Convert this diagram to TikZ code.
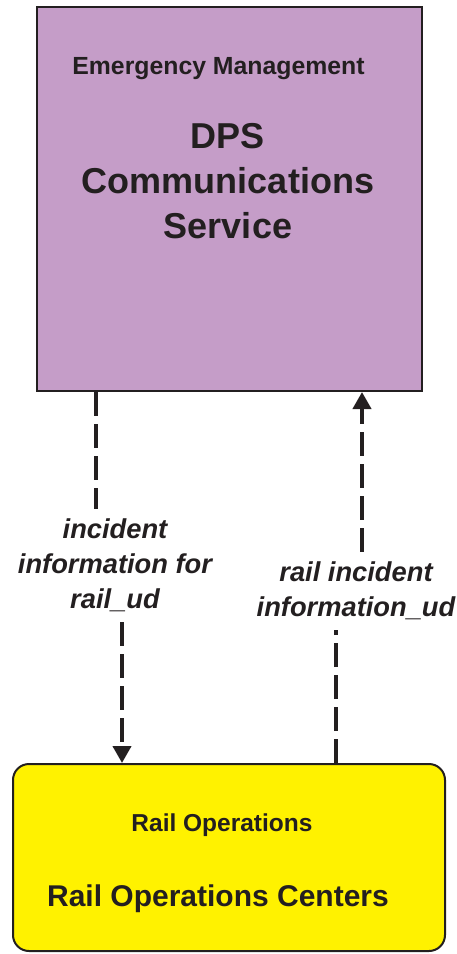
\documentclass[tikz,border=0pt]{standalone}
\usepackage{fontspec}
\setmainfont{Liberation Sans}
\usetikzlibrary{arrows.meta}
\definecolor{dpspurple}{RGB}{197,157,200}
\definecolor{railyellow}{RGB}{255,242,0}
\definecolor{inkdark}{RGB}{35,31,32}

\begin{document}
\begin{tikzpicture}[x=1pt, y=-1pt,
  every node/.style={text=inkdark, font=\bfseries},
  flowline/.style={draw=inkdark, line width=4pt, dash pattern=on 24pt off 8pt},
  flowlabel/.style={align=center, inner xsep=0pt, inner ysep=10pt, anchor=north,
    font=\bfseries\itshape\fontsize{27.3}{35}\selectfont}]
  \useasboundingbox (0,0) rectangle (457,954);
  % the two boxes
  \node[draw=inkdark, line width=2pt, fill=dpspurple, minimum width=385pt, minimum height=384pt] (dps) at (229.5,199) {};
  \node[draw=inkdark, line width=2pt, fill=railyellow, rounded corners=16pt, minimum width=432pt, minimum height=187pt] (roc) at (229,857.5) {};
  \node[font=\bfseries\fontsize{24.8}{28}\selectfont, anchor=base] (dpsarea) at (218.5,74) {Emergency Management};
  \node[font=\bfseries\fontsize{36}{45}\selectfont, align=center, anchor=north, inner sep=0pt] (dpsname) at (228,123) {DPS\\Communications\\Service};
  \node[font=\bfseries\fontsize{24.5}{28}\selectfont, anchor=base] (rocarea) at (222,831) {Rail Operations};
  \node[font=\bfseries\fontsize{30}{34}\selectfont, anchor=base] (rocname) at (218,906) {Rail Operations Centers};
  % flow labels
  \node[flowlabel] (infoforrail) at (115,508.5) {incident\\information for\\rail\_ud};
  \node[flowlabel] (railinfo) at (356,551.5) {rail incident\\information\_ud};
  % flows
  \coordinate (down1) at (96,0);
  \coordinate (down2) at (122,0);
  \coordinate (up1) at (336,0);
  \coordinate (up2) at (362,0);
  \draw[flowline] (dps.south -| down1) -- (infoforrail.north -| down1);
  \draw[flowline, -{Triangle[length=17pt, width=18pt]}] (infoforrail.south -| down2) -- (roc.north -| down2);
  \draw[flowline] (roc.north -| up1) -- (railinfo.south -| up1);
  \draw[flowline, -{Triangle[length=17pt, width=18pt]}] (railinfo.north -| up2) -- (dps.south -| up2);
\end{tikzpicture}
\end{document}
